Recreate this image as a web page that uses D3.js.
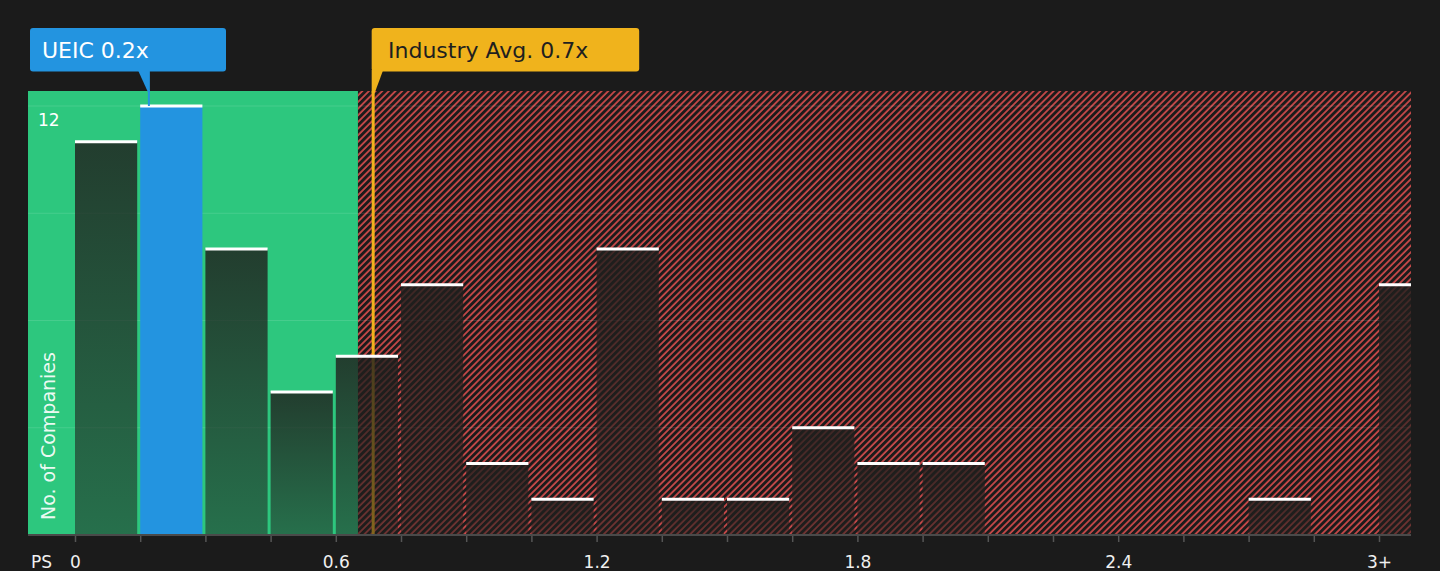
<!DOCTYPE html>
<html>
<head>
<meta charset="utf-8">
<script src="https://cdn.jsdelivr.net/npm/d3@7"></script>
<style>
  html, body { margin: 0; padding: 0; background: #1b1b1b; }
  svg { display: block; }
  text { font-family: "DejaVu Sans", sans-serif; }
</style>
</head>
<body>
<svg id="chart" width="1440" height="571"></svg>
<script>
// ---- data ----
const binStarts = [0, 0.15, 0.3, 0.45, 0.6, 0.75, 0.9, 1.05, 1.2, 1.35, 1.5, 1.65, 1.8, 1.95, 2.1, 2.25, 2.4, 2.55, 2.7, 2.85, 3.0];
const counts    = [11, 12, 8, 4, 5, 7, 2, 1, 8, 1, 1, 3, 2, 2, 0, 0, 0, 0, 1, 0, 7];
const binWidth = 0.15;
const xTickValues = [0, 0.6, 1.2, 1.8, 2.4, 3.0];
const xTickLabels = ["0", "0.6", "1.2", "1.8", "2.4", "3+"];
const yGridValues = [3, 6, 9, 12];
const yTickValues = [12];
const companyName = "UEIC";
const companyValue = 0.17;
const companyLabel = "UEIC 0.2x";
const industryAvg = 0.686;
const industryLabel = "Industry Avg. 0.7x";
const fairThreshold = 0.651;

// ---- layout ----
const W = 1440, H = 571;
const plot = { left: 28, right: 1411, top: 91, bottom: 535 };
const colors = {
  bg: "#1b1b1b", green: "#2dc77e", blue: "#2394e0", yellow: "#f0b31c",
  hatch: "#d24b4b", axis: "#4a4a4a"
};

const svg = d3.select("#chart");
const x = d3.scaleLinear().domain([0, 3]).range([75, 1379]);
const y = d3.scaleLinear().domain([0, 12]).range([535, 106]);

const defs = svg.append("defs");
const pat = defs.append("pattern")
  .attr("id", "hatch").attr("patternUnits", "userSpaceOnUse")
  .attr("width", 4.7).attr("height", 4.7)
  .attr("patternTransform", "rotate(45)");
pat.append("rect").attr("width", 4.7).attr("height", 4.7).attr("fill", colors.bg);
pat.append("line").attr("x1", 1).attr("y1", 0).attr("x2", 1).attr("y2", 4.7)
  .attr("stroke", colors.hatch).attr("stroke-width", 1.7);

const grad = defs.append("linearGradient").attr("id", "barGrad")
  .attr("x1", 0).attr("y1", 0).attr("x2", 0).attr("y2", 1);
grad.append("stop").attr("offset", "0%").attr("stop-color", "rgb(32,31,29)").attr("stop-opacity", 0.82);
grad.append("stop").attr("offset", "100%").attr("stop-color", "rgb(32,31,29)").attr("stop-opacity", 0.52);

defs.append("clipPath").attr("id", "plotClip").append("rect")
  .attr("x", plot.left).attr("y", plot.top)
  .attr("width", plot.right - plot.left).attr("height", plot.bottom - plot.top);

svg.append("rect").attr("width", W).attr("height", H).attr("fill", colors.bg);

const g = svg.append("g").attr("clip-path", "url(#plotClip)");

// regions
g.append("rect").attr("x", plot.left).attr("y", plot.top)
  .attr("width", x(fairThreshold) - plot.left).attr("height", plot.bottom - plot.top)
  .attr("fill", colors.green);
g.append("rect").attr("x", x(fairThreshold)).attr("y", plot.top)
  .attr("width", plot.right - x(fairThreshold)).attr("height", plot.bottom - plot.top)
  .attr("fill", "url(#hatch)");

// gridlines
g.selectAll("line.grid").data(yGridValues).join("line").attr("class", "grid")
  .attr("x1", plot.left).attr("x2", plot.right)
  .attr("y1", d => y(d)).attr("y2", d => y(d))
  .attr("stroke", "rgba(255,255,255,0.12)").attr("stroke-width", 1);

// industry line
g.append("line")
  .attr("x1", x(industryAvg)).attr("x2", x(industryAvg))
  .attr("y1", plot.top).attr("y2", plot.bottom)
  .attr("stroke", colors.yellow).attr("stroke-width", 3);

// bars
const bins = binStarts.map((s, i) => ({ start: s, count: counts[i], isCompany: companyValue >= s && companyValue < s + binWidth }));
const barW = d => x(d.start + binWidth) - x(d.start) - 3;
g.selectAll("rect.bar").data(bins.filter(d => d.count > 0)).join("rect").attr("class", "bar")
  .attr("x", d => x(d.start)).attr("y", d => y(d.count))
  .attr("width", barW).attr("height", d => y(0) - y(d.count))
  .attr("fill", d => d.isCompany ? colors.blue : "url(#barGrad)");
g.selectAll("rect.cap").data(bins.filter(d => d.count > 0)).join("rect").attr("class", "cap")
  .attr("x", d => x(d.start)).attr("y", d => y(d.count) - 1.5)
  .attr("width", barW).attr("height", 3)
  .attr("fill", "#ffffff");

// axis
const allTicks = binStarts.slice();
const xAxis = d3.axisBottom(x).tickValues(allTicks).tickSize(7).tickPadding(14)
  .tickFormat(d => { const i = xTickValues.findIndex(v => Math.abs(v - d) < 1e-9); return i >= 0 ? xTickLabels[i] : ""; });
const ax = svg.append("g").attr("transform", `translate(0,${plot.bottom})`).call(xAxis);
ax.select(".domain").remove();
ax.selectAll(".tick line").attr("stroke", "#555").attr("stroke-width", 1.5);
ax.selectAll(".tick text").attr("fill", "#f0f0f0").style("font-size", "17px").attr("font-family", "DejaVu Sans");
svg.append("line").attr("x1", plot.left).attr("x2", plot.right)
  .attr("y1", plot.bottom).attr("y2", plot.bottom)
  .attr("stroke", colors.axis).attr("stroke-width", 2);
svg.append("text").attr("x", 31).attr("y", 568).attr("fill", "#f0f0f0")
  .style("font-size", "17px").text("PS");

// y labels
svg.selectAll("text.ytick").data(yTickValues).join("text").attr("class", "ytick")
  .attr("x", 38).attr("y", d => y(d) + 20)
  .attr("fill", "#ffffff").style("font-size", "17px").text(d => d);
svg.append("text").attr("transform", "translate(55,520) rotate(-90)")
  .attr("fill", "rgba(255,255,255,0.92)").style("font-size", "19px").text("No. of Companies");

// company callout
const cx = x(companyValue);
svg.append("rect").attr("x", 30).attr("y", 28).attr("width", 196).attr("height", 43.5).attr("rx", 3)
  .attr("fill", colors.blue);
svg.append("polygon")
  .attr("points", `${cx - 11},70 ${cx + 1},70 ${cx + 1},92 ${cx - 1},92`)
  .attr("fill", colors.blue);
svg.append("line").attr("x1", cx).attr("x2", cx).attr("y1", 90).attr("y2", y(12))
  .attr("stroke", colors.blue).attr("stroke-width", 2);
svg.append("text").attr("x", 42).attr("y", 58).attr("fill", "#ffffff")
  .style("font-size", "22px").text(companyLabel);

// industry callout
const ix = x(industryAvg);
svg.append("rect").attr("x", ix - 1.5).attr("y", 28).attr("width", 267.5).attr("height", 43.5).attr("rx", 3)
  .attr("fill", colors.yellow);
svg.append("polygon")
  .attr("points", `${ix - 1.5},70 ${ix + 10},70 ${ix + 1.5},93 ${ix - 1.5},93`)
  .attr("fill", colors.yellow);
svg.append("text").attr("x", 388).attr("y", 58).attr("fill", "#1f1f1f")
  .style("font-size", "22px").text(industryLabel);
</script>
</body>
</html>
